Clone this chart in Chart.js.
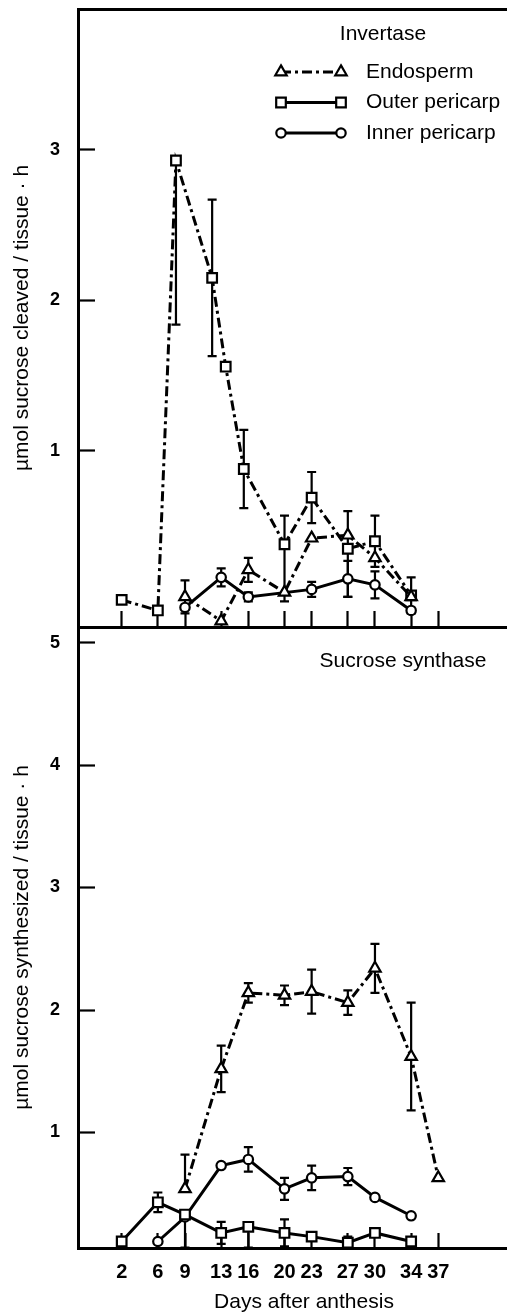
<!DOCTYPE html>
<html>
<head>
<meta charset="utf-8">
<script src="https://cdn.jsdelivr.net/npm/chart.js@4.4.1/dist/chart.umd.min.js"></script>
<style>
  html, body { margin: 0; padding: 0; background: #fff; overflow: hidden; }
  #wrap { position: relative; width: 507px; height: 1315px; overflow: hidden; background: #fff; }
  canvas { position: absolute; left: 0; top: 0; }
</style>
</head>
<body>
<div id="wrap">
  <canvas id="sus" width="530" height="1315"></canvas>
  <canvas id="inv" width="530" height="1315"></canvas>
</div>
<script>
// ---- data ---------------------------------------------------------------
// Days after anthesis marked on the shared time axis
const dayTicks = [2, 6, 9, 13, 16, 20, 23, 27, 30, 34, 37];
const seriesNames = ['Endosperm', 'Outer pericarp', 'Inner pericarp'];

// Invertase: µmol sucrose cleaved / tissue · h  (errors: number = ±, [down, up])
const invTicks = [1, 2, 3];
const invEndoDays = [9, 13, 16, 20, 23, 27, 30, 34];
const invEndo     = [0.03, -0.13, 0.21, 0.06, 0.42, 0.44, 0.29, 0.03];
const invEndoErr  = [0.11, 0, 0.08, 0, 0, 0, 0, 0];
const invOuterDays = [2, 6, 8, 12, 13.5, 15.5, 20, 23, 27, 30, 34];
const invOuter     = [0.01, -0.06, 2.93, 2.15, 1.56, 0.88, 0.38, 0.69, 0.35, 0.40, 0.04];
const invOuterErr  = [0, 0, [1.09, 0], 0.52, 0, 0.26, [0.38, 0.19], 0.17, [0.32, 0.25], 0.17, 0.12];
const invInnerDays = [9, 13, 16, 23, 27, 30, 34];
const invInner     = [-0.04, 0.16, 0.03, 0.08, 0.15, 0.11, -0.06];
const invInnerErr  = [0, 0.06, 0.03, 0.05, 0.12, 0.09, 0];

// Sucrose synthase: µmol sucrose synthesized / tissue · h
const susTicks = [1, 2, 3, 4, 5];
const susEndoDays = [9, 13, 16, 20, 23, 27, 30, 34, 37];
const susEndo     = [0.54, 1.52, 2.14, 2.12, 2.15, 2.06, 2.34, 1.62, 0.63];
const susEndoErr  = [[0, 0.28], 0.19, 0.08, 0.08, 0.18, 0.10, 0.20, 0.44, 0];
const susOuterDays = [2, 6, 9, 13, 16, 20, 23, 27, 30, 34];
const susOuter     = [0.11, 0.43, 0.33, 0.18, 0.23, 0.18, 0.15, 0.10, 0.18, 0.11];
const susOuterErr  = [0, 0.08, [0.27, 0], 0.09, [0.17, 0], 0.11, 0, 0.05, 0, 0];
const susInnerDays = [6, 9, 13, 16, 20, 23, 27, 30, 34];
const susInner     = [0.11, 0.31, 0.73, 0.78, 0.54, 0.63, 0.64, 0.47, 0.32];
const susInnerErr  = [0, 0, 0, 0.10, 0.09, 0.10, 0.07, 0, 0];

// ---- styling ------------------------------------------------------------
const FONT = "'Liberation Sans', Arial, Helvetica, sans-serif";
Chart.defaults.font.family = FONT;
Chart.defaults.color = '#000';

const X_MIN = -2.83, X_MAX = 47.14;        // plot runs past the right page edge
const PLOT_LEFT = 78;                        // width reserved for the value axis
const LINE_W = 3;
const DASH_DOT = [10, 4, 3, 4];
const MARK = {
  endo:  { pointStyle: 'triangle', radius: 6.6 },
  outer: { pointStyle: 'rect',     radius: 6.8 },
  inner: { pointStyle: 'circle',   radius: 4.7 }
};

function points(days, vals) {
  return days.map((d, i) => ({ x: d, y: vals[i] }));
}

function lineSet(label, days, vals, errs, mark, dash) {
  return {
    label,
    data: points(days, vals),
    errors: errs,
    xAxisID: 'x', yAxisID: 'y',
    borderColor: '#000', borderWidth: LINE_W, borderDash: dash, tension: 0, fill: false,
    pointStyle: mark.pointStyle, pointRadius: mark.radius, pointHoverRadius: mark.radius,
    pointBorderWidth: 2.2, pointBackgroundColor: '#fff', pointBorderColor: '#000',
    clip: false
  };
}

function drawMarker(ctx, style, radius, x, y) {
  const opts = { pointStyle: style, radius, rotation: 0, borderWidth: 2.2 };
  if (Chart.helpers && Chart.helpers.drawPoint) {
    Chart.helpers.drawPoint(ctx, opts, x, y);
    return;
  }
  ctx.beginPath();
  if (style === 'circle') ctx.arc(x, y, radius, 0, Math.PI * 2);
  else if (style === 'rect') { const s = radius * Math.SQRT1_2; ctx.rect(x - s, y - s, 2 * s, 2 * s); }
  else {
    for (let k = 0; k < 3; k++) {
      const a = k * 2 * Math.PI / 3;
      const px = x + Math.sin(a) * radius, py = y - Math.cos(a) * radius;
      k ? ctx.lineTo(px, py) : ctx.moveTo(px, py);
    }
    ctx.closePath();
  }
  ctx.fill(); ctx.stroke();
}

// vertical error bars with flat caps, drawn under lines and markers
const errorBars = {
  id: 'errorBars',
  beforeDatasetsDraw(chart) {
    const ctx = chart.ctx, yScale = chart.scales.y, cap = 4.5;
    ctx.save();
    ctx.strokeStyle = '#000';
    ctx.lineWidth = 2.2;
    chart.data.datasets.forEach((ds, di) => {
      if (!ds.errors) return;
      const meta = chart.getDatasetMeta(di);
      meta.data.forEach((pt, i) => {
        const e = ds.errors[i];
        if (!e) return;
        const [down, up] = Array.isArray(e) ? e : [e, e];
        const v = ds.data[i].y;
        const ends = [];
        if (down) ends.push(yScale.getPixelForValue(v - down));
        if (up) ends.push(yScale.getPixelForValue(v + up));
        ends.forEach(py => {
          ctx.beginPath();
          ctx.moveTo(pt.x, pt.y); ctx.lineTo(pt.x, py);
          ctx.moveTo(pt.x - cap, py); ctx.lineTo(pt.x + cap, py);
          ctx.stroke();
        });
      });
    });
    ctx.restore();
  }
};

// panel heading plus an optional key of line samples with end markers
function panelKey(cfg) {
  return {
    id: 'panelKey',
    afterDatasetsDraw(chart) {
      const ctx = chart.ctx;
      ctx.save();
      ctx.font = '21px ' + FONT;
      ctx.textBaseline = 'middle';
      ctx.textAlign = 'center';
      ctx.fillStyle = '#000';
      ctx.fillText(cfg.title, cfg.titleX, cfg.titleY);
      ctx.textAlign = 'left';
      (cfg.items || []).forEach((it, k) => {
        const y = cfg.rowY + k * cfg.rowGap;
        ctx.strokeStyle = '#000';
        ctx.lineWidth = LINE_W;
        ctx.setLineDash(it.dash);
        ctx.beginPath(); ctx.moveTo(cfg.x1, y); ctx.lineTo(cfg.x2, y); ctx.stroke();
        ctx.setLineDash([]);
        ctx.lineWidth = 2.2;
        ctx.fillStyle = '#fff';
        drawMarker(ctx, it.mark.pointStyle, it.mark.radius, cfg.x1, y);
        drawMarker(ctx, it.mark.pointStyle, it.mark.radius, cfg.x2, y);
        ctx.fillStyle = '#000';
        ctx.fillText(it.label, cfg.textX, y);
      });
      ctx.restore();
    }
  };
}

// fixed axis box sizes; the label overhang padding is not needed here
function fixBox(size, horizontal) {
  return s => {
    if (horizontal) s.height = size; else s.width = size;
    s.paddingTop = 0; s.paddingBottom = 0; s.paddingLeft = 0; s.paddingRight = 0;
  };
}

function panelOptions(p) {
  const scales = {
    x: {
      type: 'linear', position: 'bottom', min: X_MIN, max: X_MAX,
      afterBuildTicks: s => { s.ticks = dayTicks.map(v => ({ value: v })); },
      afterFit: fixBox(p.xHeight, true),
      grid: { display: true, drawOnChartArea: false, drawTicks: true, tickLength: -p.xTick, tickWidth: 2.2, tickColor: '#000' },
      border: { display: true, color: '#000', width: 3 },
      ticks: { display: p.xLabels, autoSkip: false, maxRotation: 0, padding: 27, color: '#000',
               font: { family: FONT, size: 20, weight: 'bold' } },
      title: { display: p.xLabels, text: 'Days after anthesis', color: '#000',
               font: { family: FONT, size: 21 }, padding: { top: 0, bottom: 0 } }
    },
    y: {
      type: 'linear', position: 'left', min: p.yMin, max: p.yMax,
      afterBuildTicks: s => { s.ticks = p.yTicks.map(v => ({ value: v })); },
      afterFit: fixBox(PLOT_LEFT, false),
      grid: { display: true, drawOnChartArea: false, drawTicks: true, tickLength: -17, tickWidth: 2.2, tickColor: '#000' },
      border: { display: true, color: '#000', width: 3 },
      ticks: { autoSkip: false, padding: 35, color: '#000', font: { family: FONT, size: 18, weight: 'bold' } },
      title: { display: true, text: p.yTitle, color: '#000', font: { family: FONT, size: 21 },
               padding: { top: 10, bottom: 0 } }
    }
  };
  if (p.frameTop) {
    scales.xTop = {
      type: 'linear', position: 'top', min: 0, max: 1,
      afterFit: fixBox(0, true),
      grid: { display: false }, ticks: { display: false },
      border: { display: true, color: '#000', width: 3 }
    };
  }
  return {
    responsive: false, animation: false, devicePixelRatio: 1,
    events: [],
    layout: { autoPadding: false, padding: { top: p.top, left: 0, right: 0, bottom: 0 } },
    plugins: { legend: { display: false }, tooltip: { enabled: false }, title: { display: false } },
    scales
  };
}

// ---- upper panel: invertase ---------------------------------------------
new Chart(document.getElementById('inv'), {
  type: 'line',
  data: {
    datasets: [
      lineSet(seriesNames[0], invEndoDays, invEndo, invEndoErr, MARK.endo, DASH_DOT),
      lineSet(seriesNames[1], invOuterDays, invOuter, invOuterErr, MARK.outer, DASH_DOT),
      lineSet(seriesNames[2], invInnerDays, invInner, invInnerErr, MARK.inner, [])
    ]
  },
  options: panelOptions({
    top: 9, xHeight: 1315 - 627, xTick: 16, xLabels: false, frameTop: true,
    yMin: -0.17, yMax: 3.937, yTicks: invTicks,
    yTitle: 'µmol sucrose cleaved / tissue · h'
  }),
  plugins: [errorBars, panelKey({
    title: 'Invertase', titleX: 383, titleY: 34.5,
    x1: 281, x2: 341, textX: 366, rowY: 72, rowGap: 30.5,
    items: [
      { label: seriesNames[0], mark: MARK.endo,  dash: DASH_DOT },
      { label: seriesNames[1], mark: MARK.outer, dash: [] },
      { label: seriesNames[2], mark: MARK.inner, dash: [] }
    ]
  })]
});

// ---- lower panel: sucrose synthase --------------------------------------
new Chart(document.getElementById('sus'), {
  type: 'line',
  data: {
    datasets: [
      lineSet(seriesNames[0], susEndoDays, susEndo, susEndoErr, MARK.endo, DASH_DOT),
      lineSet(seriesNames[1], susOuterDays, susOuter, susOuterErr, MARK.outer, []),
      lineSet(seriesNames[2], susInnerDays, susInner, susInnerErr, MARK.inner, [])
    ]
  },
  options: panelOptions({
    top: 627, xHeight: 1315 - 1248, xTick: 15, xLabels: true, frameTop: false,
    yMin: 0.057, yMax: 5.127, yTicks: susTicks,
    yTitle: 'µmol sucrose synthesized / tissue · h'
  }),
  plugins: [errorBars, panelKey({ title: 'Sucrose synthase', titleX: 403, titleY: 661 })]
});
</script>
</body>
</html>
